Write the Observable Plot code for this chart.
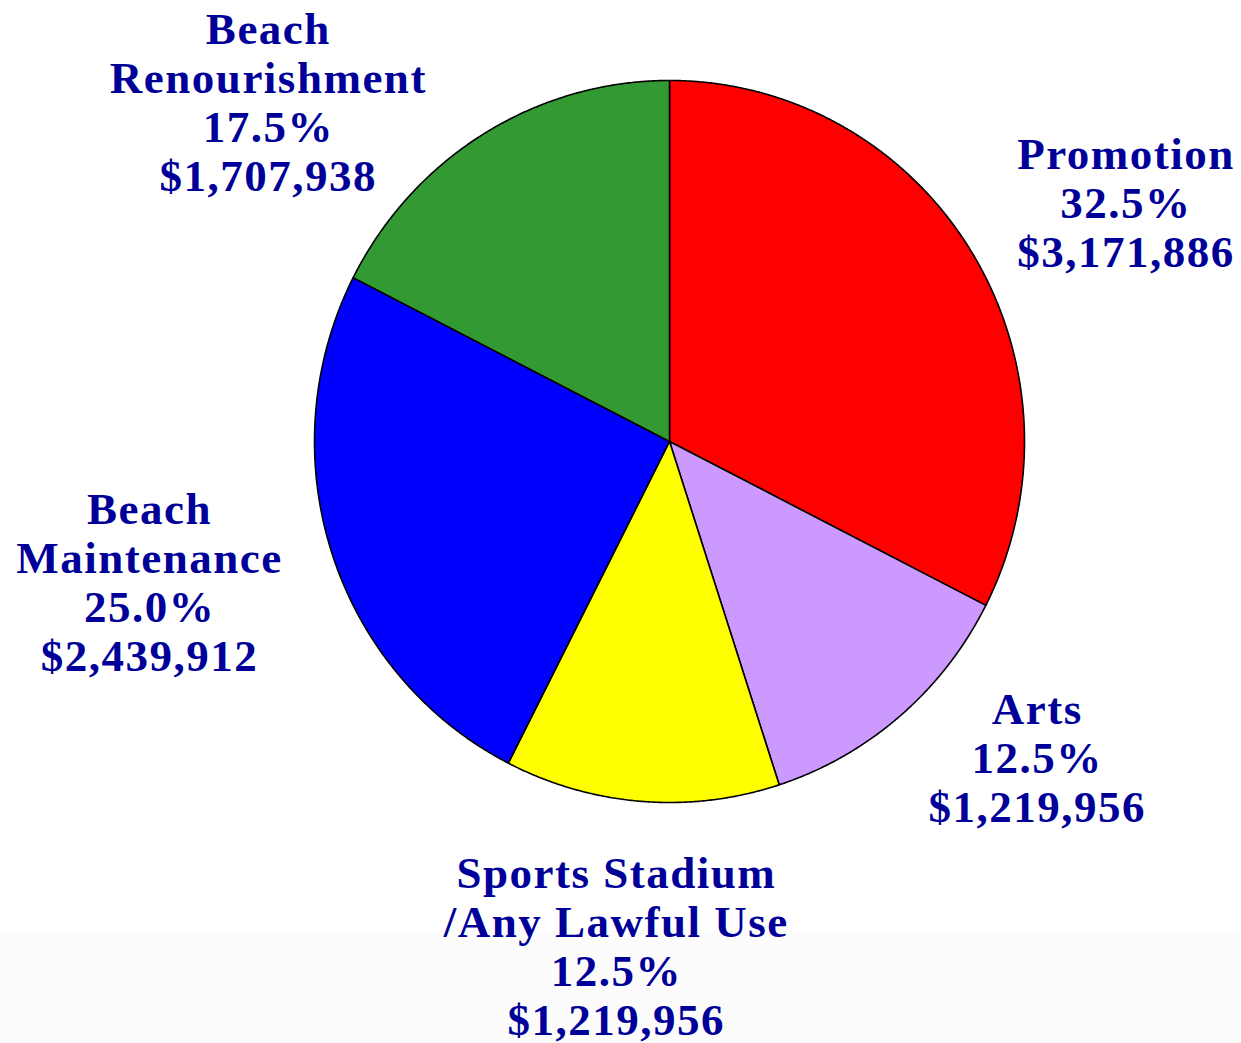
<!DOCTYPE html>
<html>
<head>
<meta charset="utf-8">
<script src="https://cdn.jsdelivr.net/npm/d3@7"></script>
<script src="https://cdn.jsdelivr.net/npm/@observablehq/plot@0.6"></script>
<style>
  html, body { margin: 0; padding: 0; }
  body { width: 1241px; height: 1043px; overflow: hidden;
         background: linear-gradient(#ffffff 0, #ffffff 930px, #fcfcfc 930px, #fcfcfc 100%); }
  #chart svg text { letter-spacing: 1.5px; }
</style>
</head>
<body>
<div id="chart"></div>
<script>
// ---- data ----
const categories = ["Promotion", "Arts", "Sports Stadium\n/Any Lawful Use", "Beach\nMaintenance", "Beach\nRenourishment"];
const amounts = [3171886, 1219956, 1219956, 2439912, 1707938];
const colors = ["#ff0000", "#cc99ff", "#ffff00", "#0000ff", "#339933"];

// ---- layout (pixels) ----
const W = 1241, H = 1043;
const cx = 669, cy = 441, rx = 355, ry = 361;
const labelRadius = 1.3;
const labelNudge = [[63, 6], [68, -41], [-17, 36], [-81, -5], [-160, 60]];

const total = d3.sum(amounts);
const fmtPct = d3.format(".1%");
const fmtMoney = d3.format("$,");

const arcs = d3.pie().sort(null).value(d => d)(amounts);

// polygon vertices for each slice, in unit-circle coordinates
const slicePts = [];
arcs.forEach((a, i) => {
  const cat = categories[i];
  slicePts.push({cat, x: 0, y: 0});
  const n = Math.max(2, Math.ceil((a.endAngle - a.startAngle) / 0.005));
  for (let k = 0; k <= n; k++) {
    const t = a.startAngle + (a.endAngle - a.startAngle) * k / n;
    slicePts.push({cat, x: Math.sin(t), y: Math.cos(t)});
  }
  slicePts.push({cat, x: 0, y: 0});
});

const labels = arcs.map((a, i) => {
  const m = (a.startAngle + a.endAngle) / 2;
  return {
    text: `${categories[i]}\n${fmtPct(amounts[i] / total)}\n${fmtMoney(amounts[i])}`,
    x: labelRadius * Math.sin(m) + labelNudge[i][0] / rx,
    y: labelRadius * Math.cos(m) - labelNudge[i][1] / ry
  };
});

const chart = Plot.plot({
  width: W,
  height: H,
  margin: 0,
  style: {background: "transparent", overflow: "visible"},
  x: {domain: [-cx / rx, (W - cx) / rx], range: [0, W], axis: null},
  y: {domain: [(cy - H) / ry, cy / ry], range: [H, 0], axis: null},
  color: {domain: categories, range: colors},
  marks: [
    Plot.line(slicePts, {x: "x", y: "y", z: "cat", fill: "cat", stroke: "#000", strokeWidth: 1.6, strokeLinejoin: "round", curve: "linear"}),
    Plot.text(labels, {
      x: "x", y: "y", text: "text",
      textAnchor: "middle", lineAnchor: "middle", lineHeight: 49 / 45,
      fontSize: 45, fontWeight: "bold", fontFamily: "Liberation Serif, Times New Roman, serif",
      fill: "#000099"
    })
  ]
});
document.getElementById("chart").appendChild(chart);
</script>
</body>
</html>
